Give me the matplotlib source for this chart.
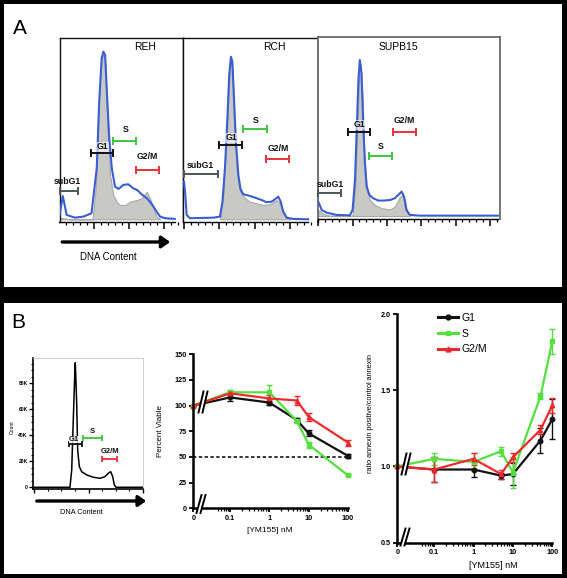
import numpy as np
import matplotlib
matplotlib.use('Agg')
import matplotlib.pyplot as plt
from matplotlib.patches import Rectangle, Polygon, FancyArrowPatch
from matplotlib.lines import Line2D
from matplotlib.ticker import MultipleLocator, FixedLocator, NullFormatter

plt.rcParams['font.family'] = ['Liberation Sans', 'DejaVu Sans']

# ---------------- DATA ----------------
# Panel A histograms: x in units of major tick spacing, y as fraction of panel height
reh_blue_x = [0, 0.10, 0.21, 0.45, 0.69, 0.92, 1.07, 1.14, 1.21, 1.26, 1.31, 1.35, 1.42, 1.50, 1.59, 1.69, 1.83, 1.97, 2.11, 2.23, 2.35, 2.50, 2.59, 2.69, 2.78, 2.88, 3.02, 3.30]
reh_blue_y = [0.015, 0.128, 0.024, 0.009, 0.015, 0.033, 0.281, 0.648, 0.886, 0.923, 0.905, 0.739, 0.464, 0.281, 0.180, 0.167, 0.189, 0.193, 0.171, 0.161, 0.138, 0.116, 0.097, 0.070, 0.042, 0.015, 0.006, 0.002]
reh_gray_x = [0, 0.16, 0.31, 0.95, 1.05, 1.11, 1.18, 1.24, 1.31, 1.37, 1.45, 1.54, 1.64, 1.73, 1.88, 2.02, 2.21, 2.35, 2.50, 2.59, 2.69, 2.78, 2.88]
reh_gray_y = [0.009, 0.004, 0, 0, 0.189, 0.556, 0.831, 0.914, 0.868, 0.556, 0.244, 0.134, 0.097, 0.079, 0.079, 0.097, 0.106, 0.116, 0.152, 0.116, 0.061, 0.015, 0]

rch_blue_x = [0, 0.03, 0.075, 0.17, 0.83, 1.02, 1.09, 1.16, 1.23, 1.28, 1.33, 1.37, 1.42, 1.47, 1.54, 1.60, 1.68, 1.77, 1.92, 2.06, 2.20, 2.34, 2.48, 2.62, 2.67, 2.74, 2.81, 2.91, 3.09, 3.52]
rch_blue_y = [0.207, 0.152, 0.024, 0.006, 0.009, 0.015, 0.097, 0.281, 0.556, 0.794, 0.895, 0.868, 0.648, 0.428, 0.244, 0.167, 0.138, 0.134, 0.125, 0.116, 0.106, 0.094, 0.097, 0.116, 0.125, 0.097, 0.042, 0.009, 0.002, 0]
rch_gray_x = [1.02, 1.11, 1.21, 1.28, 1.33, 1.38, 1.44, 1.51, 1.59, 1.73, 1.87, 2.06, 2.25, 2.43, 2.62, 2.72, 2.81, 2.91, 3.0]
rch_gray_y = [0, 0.134, 0.464, 0.776, 0.877, 0.813, 0.464, 0.244, 0.152, 0.116, 0.097, 0.088, 0.079, 0.083, 0.106, 0.088, 0.042, 0.006, 0]

sup_blue_x = [0, 0.02, 0.10, 0.24, 0.53, 0.92, 1.0, 1.07, 1.12, 1.17, 1.21, 1.26, 1.31, 1.36, 1.41, 1.49, 1.60, 1.75, 1.89, 2.09, 2.23, 2.36, 2.43, 2.50, 2.57, 2.67, 2.96, 5.24]
sup_blue_y = [0.080, 0.071, 0.033, 0.019, 0.006, 0.004, 0.033, 0.201, 0.480, 0.758, 0.870, 0.796, 0.517, 0.294, 0.164, 0.117, 0.099, 0.086, 0.086, 0.089, 0.099, 0.123, 0.136, 0.108, 0.033, 0.006, 0.002, 0.002]
sup_gray_x = [0, 0.15, 0.34, 1.0, 1.07, 1.14, 1.19, 1.23, 1.29, 1.34, 1.41, 1.50, 1.65, 1.85, 2.09, 2.23, 2.38, 2.46, 2.52, 2.59, 2.67]
sup_gray_y = [0.033, 0.011, 0.002, 0.002, 0.145, 0.480, 0.796, 0.851, 0.665, 0.331, 0.164, 0.089, 0.061, 0.043, 0.037, 0.052, 0.108, 0.117, 0.089, 0.024, 0.002]

gate_names = ['subG1', 'G1', 'S', 'G2/M']
# (x start, x end, y level, label x, label y)
reh_gates = [(0.02, 0.53, 0.157, 0.22, 0.207), (0.91, 1.54, 0.367, 1.23, 0.40), (1.53, 2.19, 0.431, 1.91, 0.495), (2.19, 2.86, 0.271, 2.52, 0.345)]
rch_gates = [(0.0, 0.95, 0.248, 0.45, 0.299), (1.0, 1.65, 0.409, 1.35, 0.449), (1.68, 2.34, 0.499, 2.02, 0.543), (2.32, 2.98, 0.332, 2.68, 0.391)]
sup_gates = [(0.0, 0.66, 0.127, 0.34, 0.178), (0.86, 1.51, 0.467, 1.20, 0.508), (1.49, 2.14, 0.336, 1.82, 0.387), (2.19, 2.85, 0.470, 2.51, 0.535)]

# Panel B example histogram (counts)
ex_x = [0, 0.657, 0.689, 0.718, 0.744, 0.755, 0.781, 0.799, 0.829, 0.873, 0.965, 1.087, 1.210, 1.302, 1.363, 1.407, 1.444, 1.473, 1.505, 2.0]
ex_y = [0, 0, 13300, 51800, 85000, 95800, 64600, 28700, 15900, 12000, 9500, 7700, 6900, 8200, 10800, 12000, 8200, 1800, 0, 0]
ex_gates = [(0.63, 0.87, 33300, 0.73, 36900), (0.90, 1.25, 38200, 1.06, 42800), (1.24, 1.52, 21500, 1.39, 27900)]

# Percent viable
conc_v = [0, 0.1, 1, 5, 10, 100]
viab_g1 = [100, 108, 103, 86, 73, 51]
viab_g1_err = [0, 3, 2, 2, 3, 2]
viab_s = [100, 113, 113, 85, 62, 32]
viab_s_err = [0, 2, 7, 2, 3, 1]
viab_g2 = [100, 112, 107, 105, 89, 64]
viab_g2_err = [0, 2, 3, 4, 4, 3]

# Annexin ratio
conc_a = [0, 0.1, 1, 5, 10, 50, 100]
ann_g1 = [1.0, 0.98, 0.98, 0.94, 0.95, 1.17, 1.31]
ann_g1_err = [0, 0.08, 0.05, 0.02, 0.07, 0.08, 0.13]
ann_s = [1.0, 1.05, 1.03, 1.10, 0.96, 1.46, 1.82]
ann_s_err = [0, 0.04, 0.06, 0.03, 0.10, 0.02, 0.08]
ann_g2 = [1.0, 0.98, 1.05, 0.95, 1.06, 1.24, 1.40]
ann_g2_err = [0, 0.08, 0.04, 0.03, 0.03, 0.03, 0.05]

series_names = ['G1', 'S', 'G2/M']

# ---------------- STYLE ----------------
W, H = 567, 578
fig = plt.figure(figsize=(W / 100, H / 100), dpi=100, facecolor='black')

C_BLACK = '#111111'
C_GREEN = '#55e040'
C_RED = '#ee2a2e'
C_BLUE = '#3a5ed2'
C_GATE = {'subG1': '#4a5858', 'G1': '#111111', 'S': '#3cc63c', 'G2/M': '#e5343a'}


def fx(x):
    return x / W


def fy(y):
    return 1 - y / H


def add_ax(l, t, r, b):
    return fig.add_axes([l / W, 1 - b / H, (r - l) / W, (b - t) / H])


def ftext(x, y, s, **kw):
    fig.text(fx(x), fy(y), s, **kw)


# white panels
for (l, t, r, b) in [(4, 4, 562, 287), (4, 303, 562, 574)]:
    fig.add_artist(Rectangle((fx(l), fy(b)), (r - l) / W, (b - t) / H, transform=fig.transFigure,
                             facecolor='white', edgecolor='none', zorder=-10))

ftext(20, 28, 'A', fontsize=15, ha='center', va='center', color='black')
ftext(18, 323, 'B', fontsize=15, ha='center', va='center', color='black')


def hist_panel(l, t, r, axis_y, base_y, x0, dx, end_px, bx, by, gx, gy, gates, edge, elw):
    ax = add_ax(l, t, r, axis_y)
    ax.set_facecolor('white')
    ax.set_xlim((l - x0) / dx, (r - x0) / dx)
    ax.set_ylim(-(axis_y - base_y) / (base_y - t), 1)
    ax.fill_between(gx, gy, 0, facecolor='#c8c8c4', edgecolor='#a8a8a8', lw=0.8, zorder=2)
    ax.plot(bx, by, color=C_BLUE, lw=1.5, zorder=3, solid_joinstyle='round')
    for s in ['top', 'left', 'right']:
        ax.spines[s].set_color(edge)
        ax.spines[s].set_linewidth(elw)
    ax.spines['bottom'].set_bounds(0, (end_px - x0) / dx)
    ax.spines['bottom'].set_linewidth(1.0)
    ax.set_yticks([])
    ax.xaxis.set_major_locator(MultipleLocator(1))
    ax.xaxis.set_minor_locator(MultipleLocator(0.2))
    ax.tick_params(axis='x', which='major', direction='out', length=5, width=1.1, labelbottom=False)
    ax.tick_params(axis='x', which='minor', direction='out', length=2.2, width=0.9)
    for name, (x1, x2, yl, lx, ly) in zip(gate_names, gates):
        c = C_GATE[name]
        ax.errorbar((x1 + x2) / 2, yl, xerr=(x2 - x1) / 2, fmt='none', ecolor=c, elinewidth=1.4,
                    capsize=2.6, capthick=1.4, zorder=5, clip_on=False)
        bb = dict(facecolor='white', edgecolor='none', alpha=0.6, pad=0.3) if name == 'G1' else None
        ax.text(lx, ly, name, ha='center', va='center', fontsize=6.3, fontweight='bold', color='#111111',
                zorder=6, bbox=bb, clip_on=False)
    return ax


hist_panel(59.5, 37.7, 183.3, 222.3, 219.3, 59.3, 35.0, 175, reh_blue_x, reh_blue_y, reh_gray_x, reh_gray_y,
           reh_gates, '#111111', 1.0)
hist_panel(183.3, 37.7, 317.5, 222.3, 219.3, 184.0, 35.3, 308, rch_blue_x, rch_blue_y, rch_gray_x, rch_gray_y,
           rch_gates, '#111111', 1.0)
hist_panel(317.5, 36.7, 500, 218.7, 216.0, 318.3, 34.3, 498, sup_blue_x, sup_blue_y, sup_gray_x, sup_gray_y,
           sup_gates, '#6a6a6a', 1.3)

ftext(145, 47.5, 'REH', fontsize=7.5, ha='center', va='center')
ftext(274, 47.5, 'RCH', fontsize=7.5, ha='center', va='center')
ftext(398, 47.5, 'SUPB15', fontsize=7.5, ha='center', va='center')

fig.add_artist(FancyArrowPatch((fx(59.5), fy(242)), (fx(173), fy(242)), transform=fig.transFigure,
                               arrowstyle='-|>,head_length=0.5,head_width=0.35', mutation_scale=10,
                               lw=2.4, color='black'))
ftext(108.5, 257, 'DNA Content', fontsize=7, ha='center', va='center')

# ---------------- Panel B example histogram ----------------
axh = add_ax(33.3, 357.7, 143.3, 488.7)
axh.set_xlim(-0.018, 2.007)
axh.set_ylim(-1100, 99700)
axh.plot(ex_x, ex_y, color='black', lw=1.1)
for s in ['top', 'right']:
    axh.spines[s].set_color('#c8c8c8')
    axh.spines[s].set_linewidth(0.6)
for s in ['left', 'bottom']:
    axh.spines[s].set_linewidth(1.2)
axh.set_yticks([0, 20000, 40000, 60000, 80000])
axh.set_yticklabels(['0', '20K', '40K', '60K', '80K'], fontsize=3.6, fontweight='bold')
axh.yaxis.set_minor_locator(MultipleLocator(5000))
axh.xaxis.set_major_locator(MultipleLocator(1))
axh.xaxis.set_minor_locator(MultipleLocator(0.25))
axh.tick_params(axis='both', which='major', length=3, width=1.0, pad=1, labelbottom=False)
axh.tick_params(axis='both', which='minor', length=1.6, width=0.8)
for name, (x1, x2, yl, lx, ly) in zip(['G1', 'S', 'G2/M'], ex_gates):
    c = C_GATE[name]
    axh.errorbar((x1 + x2) / 2, yl, xerr=(x2 - x1) / 2, fmt='none', ecolor=c, elinewidth=1.3,
                 capsize=2.4, capthick=1.3, zorder=5)
    bb = dict(facecolor='white', edgecolor='none', alpha=0.8, pad=0.2) if name == 'G1' else None
    axh.text(lx, ly, name, ha='center', va='center', fontsize=5.5, fontweight='bold', color='#111111',
             zorder=6, bbox=bb)
ftext(12.7, 426.7, 'Count', fontsize=3.6, rotation=90, ha='center', va='center')
fig.add_artist(FancyArrowPatch((fx(34), fy(501)), (fx(149), fy(501)), transform=fig.transFigure,
                               arrowstyle='-|>,head_length=0.5,head_width=0.35', mutation_scale=9,
                               lw=2.4, color='black'))
ftext(81.7, 512, 'DNA Content', fontsize=5.3, ha='center', va='center')


# ---------------- helpers for dose-response plots ----------------
def setup_dose_axis(ax):
    ax.set_xscale('symlog', linthresh=0.05, linscale=0.57)
    ax.set_xlim(0, 100)
    ax.xaxis.set_major_locator(FixedLocator([0, 0.1, 1, 10, 100]))
    ax.set_xticklabels(['0', '0.1', '1', '10', '100'], fontsize=5.2, fontweight='bold')
    minors = [k * 10.0 ** e for e in (-2, -1, 0, 1) for k in range(2, 10)]
    minors = [m for m in minors if 0.05 <= m <= 100]
    ax.xaxis.set_minor_locator(FixedLocator(minors))
    ax.xaxis.set_minor_formatter(NullFormatter())
    for s in ['top', 'right']:
        ax.spines[s].set_visible(False)
    for s in ['left', 'bottom']:
        ax.spines[s].set_linewidth(1.8)
    ax.tick_params(axis='both', which='major', length=3, width=1.3, pad=1.5, labelsize=5.2)
    ax.tick_params(axis='x', which='minor', length=1.8, width=0.9)
    ax.patch.set_alpha(0)


def brk(cx, cy, w=5, h=20, gap=4, lw=1.4):
    pts = [(cx - gap / 2 - w / 2, cy + h / 2), (cx + gap / 2 - w / 2, cy + h / 2),
           (cx + gap / 2 + w / 2, cy - h / 2), (cx - gap / 2 + w / 2, cy - h / 2)]
    fig.add_artist(Polygon([(fx(a), fy(b)) for a, b in pts], closed=True, transform=fig.transFigure,
                           facecolor='white', edgecolor='none', zorder=8))
    for off in (-gap / 2, gap / 2):
        fig.add_artist(Line2D([fx(cx + off - w / 2), fx(cx + off + w / 2)], [fy(cy + h / 2), fy(cy - h / 2)],
                              transform=fig.transFigure, color='black', lw=lw, zorder=9))


def plot_series(ax, x, y, e, color, marker, label):
    cont = ax.errorbar(x, y, yerr=e, color=color, ecolor=color, lw=1.6, marker=marker, ms=3.2,
                       capsize=2.2, elinewidth=1.0, capthick=1.0, label=label)
    for art in cont.get_children():
        art.set_clip_on(False)
    return cont


# ---------------- Percent viable ----------------
axv = add_ax(193.3, 354.3, 348, 508.3)
setup_dose_axis(axv)
axv.set_ylim(0, 150)
axv.set_yticks([0, 25, 50, 75, 100, 125, 150])
axv.set_yticklabels(['0', '25', '50', '75', '100', '125', '150'], fontsize=5.2, fontweight='bold')
axv.axhline(50, color='black', lw=1.1, ls=(0, (2.2, 1.6)), zorder=1)
plot_series(axv, conc_v, viab_g1, viab_g1_err, C_BLACK, 'o', 'G1')
plot_series(axv, conc_v, viab_s, viab_s_err, C_GREEN, 's', 'S')
plot_series(axv, conc_v, viab_g2, viab_g2_err, C_RED, '^', 'G2/M')
ftext(160, 431, 'Percent Viable', fontsize=5.8, rotation=90, ha='center', va='center')
ftext(270, 531, '[YM155] nM', fontsize=6, ha='center', va='center')
brk(201, 504, w=5, h=18, gap=4)
brk(203, 402, w=5, h=21, gap=4)

# ---------------- Annexin ratio ----------------
axa = add_ax(397.3, 314, 552.3, 542.7)
setup_dose_axis(axa)
axa.set_ylim(0.5, 2.0)
axa.set_yticks([0.5, 1.0, 1.5, 2.0])
axa.set_yticklabels(['0.5', '1.0', '1.5', '2.0'], fontsize=5.2, fontweight='bold')
h1 = plot_series(axa, conc_a, ann_g1, ann_g1_err, C_BLACK, 'o', series_names[0])
h2 = plot_series(axa, conc_a, ann_s, ann_s_err, C_GREEN, 's', series_names[1])
h3 = plot_series(axa, conc_a, ann_g2, ann_g2_err, C_RED, '^', series_names[2])
ftext(370, 414, 'ratio annexin positive/control annexin', fontsize=5.2, rotation=90, ha='center', va='center')
ftext(493, 565, '[YM155] nM', fontsize=6.5, ha='center', va='center')
brk(405, 537, w=5, h=17, gap=4)
brk(406, 464, w=5, h=21, gap=4)

handles = [Line2D([], [], color=c, lw=2.2, marker=m, ms=3.5) for c, m in
           [(C_BLACK, 'o'), (C_GREEN, 's'), (C_RED, '^')]]
leg = axa.legend(handles, series_names, loc='upper left', bbox_to_anchor=(fx(438), fy(313)),
                 bbox_transform=fig.transFigure, frameon=False, fontsize=7.5, handlelength=1.9,
                 handletextpad=0.35, labelspacing=0.55, borderpad=0, borderaxespad=0)

fig.savefig('out.png', dpi=100, facecolor='black')
